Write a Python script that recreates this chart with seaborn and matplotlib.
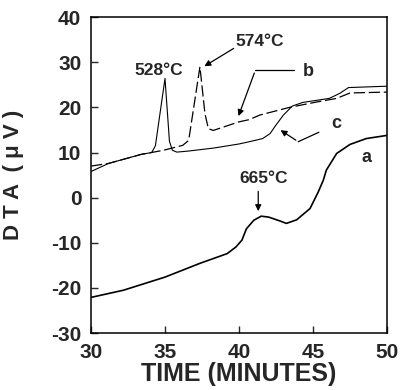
import matplotlib
matplotlib.use('Agg')
import matplotlib.pyplot as plt
import seaborn as sns

sns.set_style('ticks')
plt.rcParams['font.family'] = ['Liberation Sans', 'DejaVu Sans']
plt.rcParams['font.weight'] = 'bold'
plt.rcParams['axes.unicode_minus'] = False

# ----------------------------------------------------------------------
# curves (time in minutes, signal in microvolts)
# ----------------------------------------------------------------------

time_a = [30, 32.2, 35, 37.4, 39.2, 39.8, 40.2, 40.5, 41.0, 41.5, 42.0, 42.8,
          43.2, 43.9, 44.8, 45.36, 45.7, 45.9, 46.6, 47.5, 48.6, 50]
dta_a = [-22.1, -20.5, -17.6, -14.5, -12.4, -10.9, -9.4, -6.9, -5.0, -4.1, -4.3, -5.2,
         -5.7, -4.9, -2.4, 1.3, 3.9, 6.1, 9.8, 11.8, 13.1, 13.8]

time_b = [30, 31.2, 33.4, 34.9, 36.2, 36.6, 37.36, 37.7, 37.93, 38.26, 40.0, 40.7,
          41.4, 43.4, 45.25, 46.6, 47.5, 50]
dta_b = [7.0, 7.6, 9.6, 10.5, 11.6, 12.7, 29.0, 18.6, 15.3, 14.9, 16.8, 17.3,
         18.3, 20.0, 21.2, 22.0, 23.2, 23.4]

time_c = [30, 31.2, 33.4, 34.1, 34.35, 35.0, 35.3, 35.5, 35.8, 36.5, 38.3, 40.0,
          40.7, 41.6, 42.1, 42.5, 43.0, 43.6, 44.3, 46.1, 46.8, 47.4, 50]
dta_c = [5.8, 7.6, 9.6, 10.0, 11.5, 26.4, 12.5, 10.5, 10.1, 10.3, 11.0, 11.9,
         12.4, 13.1, 14.2, 16.1, 18.3, 20.3, 21.1, 22.0, 23.1, 24.4, 24.7]

x_ticks = [30, 35, 40, 45, 50]
y_ticks = [-30, -20, -10, 0, 10, 20, 30, 40]

# %% plot
fig = plt.figure(figsize=(4, 3.9), dpi=100)
ax = fig.add_axes([0.2275, 0.146, 0.74, 0.81])

sns.lineplot(x=time_a, y=dta_a, ax=ax, color='black', lw=1.2, sort=False, estimator=None)
sns.lineplot(x=time_c, y=dta_c, ax=ax, color='black', lw=0.8, sort=False, estimator=None)
sns.lineplot(x=time_b, y=dta_b, ax=ax, color='black', lw=0.9, sort=False, estimator=None,
             linestyle=(0, (9, 3)))

ax.set_xlim(30, 50)
ax.set_ylim(-30, 40)
ax.set_xticks(x_ticks)
ax.set_yticks(y_ticks)
ax.tick_params(direction='in', length=5, width=1, labelsize=15, pad=7,
               top=False, right=False)
for lab in ax.get_xticklabels() + ax.get_yticklabels():
    lab.set_fontweight('bold')
for s in ax.spines.values():
    s.set_linewidth(1.1)
    s.set_color('black')

ax.set_xlabel('TIME (MINUTES)', fontsize=18, fontweight='bold', labelpad=0)
ax.set_ylabel('D T A  ( μ V )', fontsize=16, fontweight='bold')
ax.yaxis.set_label_coords(-0.225, 0.5)

# peak labels and arrows
arrow = dict(arrowstyle='-|>', lw=0.9, color='black', mutation_scale=9)
ax.text(34.6, 28.2, '528°C', fontsize=12.5, fontweight='bold', ha='center', va='center')
ax.text(41.4, 34.5, '574°C', fontsize=12.5, fontweight='bold', ha='center', va='center')
ax.annotate('', xy=(37.5, 28.8), xytext=(39.8, 33.4), arrowprops=arrow)

ax.text(41.65, 4.2, '665°C', fontsize=12.5, fontweight='bold', ha='center', va='center')
ax.annotate('', xy=(41.3, -3.6), xytext=(41.3, 2.0), arrowprops=arrow)

ax.text(44.7, 27.9, 'b', fontsize=13, fontweight='bold', ha='center', va='center')
ax.plot([43.7, 41.1], [28.2, 28.2], color='black', lw=0.9)
ax.annotate('', xy=(39.9, 17.5), xytext=(41.1, 28.2), arrowprops=arrow)

ax.text(46.55, 16.4, 'c', fontsize=13, fontweight='bold', ha='center', va='center')
ax.plot([45.4, 44.0], [14.5, 12.4], color='black', lw=0.9)
ax.annotate('', xy=(42.65, 15.3), xytext=(44.0, 12.4), arrowprops=arrow)

ax.text(48.6, 9.0, 'a', fontsize=13, fontweight='bold', ha='center', va='center')

fig.savefig('out.png', dpi=100)
